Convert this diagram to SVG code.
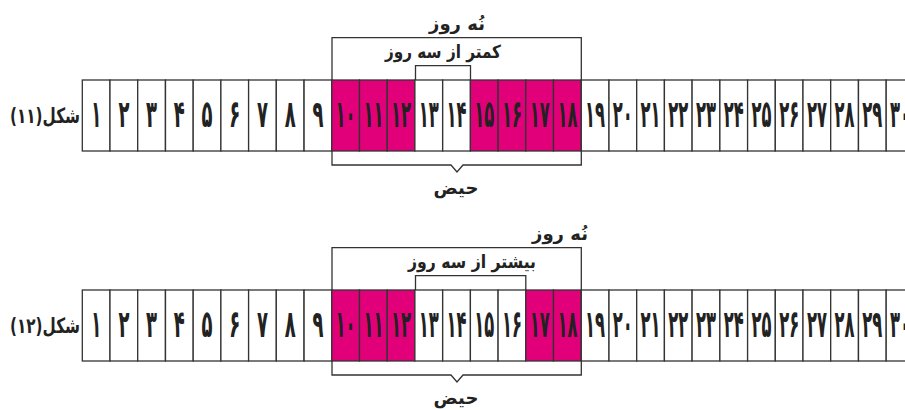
<svg xmlns="http://www.w3.org/2000/svg" width="905" height="410" viewBox="0 0 905 410">
<style>
.c{fill:#fff;stroke:#333;stroke-width:1.3}
.m{fill:#E2007A;stroke:#333;stroke-width:1.3}
.d{font-family:"DejaVu Sans",sans-serif;font-size:38px;font-weight:bold;fill:#222;text-anchor:middle}
.t{font-family:"DejaVu Sans",sans-serif;font-size:18px;font-weight:bold;fill:#222;text-anchor:middle;direction:rtl;unicode-bidi:embed}
.l{font-family:"DejaVu Sans",sans-serif;font-size:21px;font-weight:bold;fill:#222;text-anchor:middle;direction:rtl;unicode-bidi:embed}
.b{fill:none;stroke:#333;stroke-width:1.3}
</style>
<rect width="905" height="410" fill="#fff"/>
<g id="fig11">
<text id="label11" class="l" x="45" y="123" textLength="70" lengthAdjust="spacingAndGlyphs">شکل(۱۱)</text>
<g id="c11-1"><rect class="c" x="82.3" y="80" width="27.7" height="71"/><text class="d" x="96.2" y="127" textLength="10" lengthAdjust="spacingAndGlyphs">۱</text></g>
<g id="c11-2"><rect class="c" x="110" y="80" width="27.7" height="71"/><text class="d" x="123.9" y="127" textLength="11" lengthAdjust="spacingAndGlyphs">۲</text></g>
<g id="c11-3"><rect class="c" x="137.7" y="80" width="27.7" height="71"/><text class="d" x="151.6" y="127" textLength="11" lengthAdjust="spacingAndGlyphs">۳</text></g>
<g id="c11-4"><rect class="c" x="165.5" y="80" width="27.7" height="71"/><text class="d" x="179.3" y="127" textLength="11" lengthAdjust="spacingAndGlyphs">۴</text></g>
<g id="c11-5"><rect class="c" x="193.2" y="80" width="27.7" height="71"/><text class="d" x="207" y="127" textLength="11" lengthAdjust="spacingAndGlyphs">۵</text></g>
<g id="c11-6"><rect class="c" x="220.9" y="80" width="27.7" height="71"/><text class="d" x="234.8" y="127" textLength="11" lengthAdjust="spacingAndGlyphs">۶</text></g>
<g id="c11-7"><rect class="c" x="248.6" y="80" width="27.7" height="71"/><text class="d" x="262.5" y="127" textLength="11" lengthAdjust="spacingAndGlyphs">۷</text></g>
<g id="c11-8"><rect class="c" x="276.3" y="80" width="27.7" height="71"/><text class="d" x="290.2" y="127" textLength="11" lengthAdjust="spacingAndGlyphs">۸</text></g>
<g id="c11-9"><rect class="c" x="304.1" y="80" width="27.7" height="71"/><text class="d" x="317.9" y="127" textLength="11" lengthAdjust="spacingAndGlyphs">۹</text></g>
<g id="c11-10"><rect class="m" x="331.8" y="80" width="27.7" height="71"/><text class="d" x="345.6" y="127" textLength="20" lengthAdjust="spacingAndGlyphs">۱۰</text></g>
<g id="c11-11"><rect class="m" x="359.5" y="80" width="27.7" height="71"/><text class="d" x="373.4" y="127" textLength="20" lengthAdjust="spacingAndGlyphs">۱۱</text></g>
<g id="c11-12"><rect class="m" x="387.2" y="80" width="27.7" height="71"/><text class="d" x="401.1" y="127" textLength="20" lengthAdjust="spacingAndGlyphs">۱۲</text></g>
<g id="c11-13"><rect class="c" x="414.9" y="80" width="27.7" height="71"/><text class="d" x="428.8" y="127" textLength="20" lengthAdjust="spacingAndGlyphs">۱۳</text></g>
<g id="c11-14"><rect class="c" x="442.7" y="80" width="27.7" height="71"/><text class="d" x="456.5" y="127" textLength="20" lengthAdjust="spacingAndGlyphs">۱۴</text></g>
<g id="c11-15"><rect class="m" x="470.4" y="80" width="27.7" height="71"/><text class="d" x="484.2" y="127" textLength="20" lengthAdjust="spacingAndGlyphs">۱۵</text></g>
<g id="c11-16"><rect class="m" x="498.1" y="80" width="27.7" height="71"/><text class="d" x="512" y="127" textLength="20" lengthAdjust="spacingAndGlyphs">۱۶</text></g>
<g id="c11-17"><rect class="m" x="525.8" y="80" width="27.7" height="71"/><text class="d" x="539.7" y="127" textLength="20" lengthAdjust="spacingAndGlyphs">۱۷</text></g>
<g id="c11-18"><rect class="m" x="553.5" y="80" width="27.7" height="71"/><text class="d" x="567.4" y="127" textLength="20" lengthAdjust="spacingAndGlyphs">۱۸</text></g>
<g id="c11-19"><rect class="c" x="581.3" y="80" width="27.7" height="71"/><text class="d" x="595.1" y="127" textLength="20" lengthAdjust="spacingAndGlyphs">۱۹</text></g>
<g id="c11-20"><rect class="c" x="609" y="80" width="27.7" height="71"/><text class="d" x="622.8" y="127" textLength="20" lengthAdjust="spacingAndGlyphs">۲۰</text></g>
<g id="c11-21"><rect class="c" x="636.7" y="80" width="27.7" height="71"/><text class="d" x="650.6" y="127" textLength="20" lengthAdjust="spacingAndGlyphs">۲۱</text></g>
<g id="c11-22"><rect class="c" x="664.4" y="80" width="27.7" height="71"/><text class="d" x="678.3" y="127" textLength="20" lengthAdjust="spacingAndGlyphs">۲۲</text></g>
<g id="c11-23"><rect class="c" x="692.1" y="80" width="27.7" height="71"/><text class="d" x="706" y="127" textLength="20" lengthAdjust="spacingAndGlyphs">۲۳</text></g>
<g id="c11-24"><rect class="c" x="719.9" y="80" width="27.7" height="71"/><text class="d" x="733.7" y="127" textLength="20" lengthAdjust="spacingAndGlyphs">۲۴</text></g>
<g id="c11-25"><rect class="c" x="747.6" y="80" width="27.7" height="71"/><text class="d" x="761.4" y="127" textLength="20" lengthAdjust="spacingAndGlyphs">۲۵</text></g>
<g id="c11-26"><rect class="c" x="775.3" y="80" width="27.7" height="71"/><text class="d" x="789.2" y="127" textLength="20" lengthAdjust="spacingAndGlyphs">۲۶</text></g>
<g id="c11-27"><rect class="c" x="803" y="80" width="27.7" height="71"/><text class="d" x="816.9" y="127" textLength="20" lengthAdjust="spacingAndGlyphs">۲۷</text></g>
<g id="c11-28"><rect class="c" x="830.7" y="80" width="27.7" height="71"/><text class="d" x="844.6" y="127" textLength="20" lengthAdjust="spacingAndGlyphs">۲۸</text></g>
<g id="c11-29"><rect class="c" x="858.5" y="80" width="27.7" height="71"/><text class="d" x="872.3" y="127" textLength="20" lengthAdjust="spacingAndGlyphs">۲۹</text></g>
<g id="c11-30"><rect class="c" x="886.2" y="80" width="27.7" height="71"/><text class="d" x="900" y="127" textLength="20" lengthAdjust="spacingAndGlyphs">۳۰</text></g>
<text id="t11-nine" class="t" x="457" y="30">نُه روز</text>
<text id="t11-less" class="t" x="443" y="58" textLength="116" lengthAdjust="spacingAndGlyphs">کمتر از سه روز</text>
<text id="t11-haiz" class="t" x="456" y="194">حیض</text>
</g>
<g id="fig12">
<text id="label12" class="l" x="45" y="333" textLength="70" lengthAdjust="spacingAndGlyphs">شکل(۱۲)</text>
<g id="c12-1"><rect class="c" x="82.3" y="290" width="27.7" height="71"/><text class="d" x="96.2" y="337" textLength="10" lengthAdjust="spacingAndGlyphs">۱</text></g>
<g id="c12-2"><rect class="c" x="110" y="290" width="27.7" height="71"/><text class="d" x="123.9" y="337" textLength="11" lengthAdjust="spacingAndGlyphs">۲</text></g>
<g id="c12-3"><rect class="c" x="137.7" y="290" width="27.7" height="71"/><text class="d" x="151.6" y="337" textLength="11" lengthAdjust="spacingAndGlyphs">۳</text></g>
<g id="c12-4"><rect class="c" x="165.5" y="290" width="27.7" height="71"/><text class="d" x="179.3" y="337" textLength="11" lengthAdjust="spacingAndGlyphs">۴</text></g>
<g id="c12-5"><rect class="c" x="193.2" y="290" width="27.7" height="71"/><text class="d" x="207" y="337" textLength="11" lengthAdjust="spacingAndGlyphs">۵</text></g>
<g id="c12-6"><rect class="c" x="220.9" y="290" width="27.7" height="71"/><text class="d" x="234.8" y="337" textLength="11" lengthAdjust="spacingAndGlyphs">۶</text></g>
<g id="c12-7"><rect class="c" x="248.6" y="290" width="27.7" height="71"/><text class="d" x="262.5" y="337" textLength="11" lengthAdjust="spacingAndGlyphs">۷</text></g>
<g id="c12-8"><rect class="c" x="276.3" y="290" width="27.7" height="71"/><text class="d" x="290.2" y="337" textLength="11" lengthAdjust="spacingAndGlyphs">۸</text></g>
<g id="c12-9"><rect class="c" x="304.1" y="290" width="27.7" height="71"/><text class="d" x="317.9" y="337" textLength="11" lengthAdjust="spacingAndGlyphs">۹</text></g>
<g id="c12-10"><rect class="m" x="331.8" y="290" width="27.7" height="71"/><text class="d" x="345.6" y="337" textLength="20" lengthAdjust="spacingAndGlyphs">۱۰</text></g>
<g id="c12-11"><rect class="m" x="359.5" y="290" width="27.7" height="71"/><text class="d" x="373.4" y="337" textLength="20" lengthAdjust="spacingAndGlyphs">۱۱</text></g>
<g id="c12-12"><rect class="m" x="387.2" y="290" width="27.7" height="71"/><text class="d" x="401.1" y="337" textLength="20" lengthAdjust="spacingAndGlyphs">۱۲</text></g>
<g id="c12-13"><rect class="c" x="414.9" y="290" width="27.7" height="71"/><text class="d" x="428.8" y="337" textLength="20" lengthAdjust="spacingAndGlyphs">۱۳</text></g>
<g id="c12-14"><rect class="c" x="442.7" y="290" width="27.7" height="71"/><text class="d" x="456.5" y="337" textLength="20" lengthAdjust="spacingAndGlyphs">۱۴</text></g>
<g id="c12-15"><rect class="c" x="470.4" y="290" width="27.7" height="71"/><text class="d" x="484.2" y="337" textLength="20" lengthAdjust="spacingAndGlyphs">۱۵</text></g>
<g id="c12-16"><rect class="c" x="498.1" y="290" width="27.7" height="71"/><text class="d" x="512" y="337" textLength="20" lengthAdjust="spacingAndGlyphs">۱۶</text></g>
<g id="c12-17"><rect class="m" x="525.8" y="290" width="27.7" height="71"/><text class="d" x="539.7" y="337" textLength="20" lengthAdjust="spacingAndGlyphs">۱۷</text></g>
<g id="c12-18"><rect class="m" x="553.5" y="290" width="27.7" height="71"/><text class="d" x="567.4" y="337" textLength="20" lengthAdjust="spacingAndGlyphs">۱۸</text></g>
<g id="c12-19"><rect class="c" x="581.3" y="290" width="27.7" height="71"/><text class="d" x="595.1" y="337" textLength="20" lengthAdjust="spacingAndGlyphs">۱۹</text></g>
<g id="c12-20"><rect class="c" x="609" y="290" width="27.7" height="71"/><text class="d" x="622.8" y="337" textLength="20" lengthAdjust="spacingAndGlyphs">۲۰</text></g>
<g id="c12-21"><rect class="c" x="636.7" y="290" width="27.7" height="71"/><text class="d" x="650.6" y="337" textLength="20" lengthAdjust="spacingAndGlyphs">۲۱</text></g>
<g id="c12-22"><rect class="c" x="664.4" y="290" width="27.7" height="71"/><text class="d" x="678.3" y="337" textLength="20" lengthAdjust="spacingAndGlyphs">۲۲</text></g>
<g id="c12-23"><rect class="c" x="692.1" y="290" width="27.7" height="71"/><text class="d" x="706" y="337" textLength="20" lengthAdjust="spacingAndGlyphs">۲۳</text></g>
<g id="c12-24"><rect class="c" x="719.9" y="290" width="27.7" height="71"/><text class="d" x="733.7" y="337" textLength="20" lengthAdjust="spacingAndGlyphs">۲۴</text></g>
<g id="c12-25"><rect class="c" x="747.6" y="290" width="27.7" height="71"/><text class="d" x="761.4" y="337" textLength="20" lengthAdjust="spacingAndGlyphs">۲۵</text></g>
<g id="c12-26"><rect class="c" x="775.3" y="290" width="27.7" height="71"/><text class="d" x="789.2" y="337" textLength="20" lengthAdjust="spacingAndGlyphs">۲۶</text></g>
<g id="c12-27"><rect class="c" x="803" y="290" width="27.7" height="71"/><text class="d" x="816.9" y="337" textLength="20" lengthAdjust="spacingAndGlyphs">۲۷</text></g>
<g id="c12-28"><rect class="c" x="830.7" y="290" width="27.7" height="71"/><text class="d" x="844.6" y="337" textLength="20" lengthAdjust="spacingAndGlyphs">۲۸</text></g>
<g id="c12-29"><rect class="c" x="858.5" y="290" width="27.7" height="71"/><text class="d" x="872.3" y="337" textLength="20" lengthAdjust="spacingAndGlyphs">۲۹</text></g>
<g id="c12-30"><rect class="c" x="886.2" y="290" width="27.7" height="71"/><text class="d" x="900" y="337" textLength="20" lengthAdjust="spacingAndGlyphs">۳۰</text></g>
<text id="t12-nine" class="t" x="560" y="240">نُه روز</text>
<text id="t12-more" class="t" x="472" y="268" textLength="128" lengthAdjust="spacingAndGlyphs">بیشتر از سه روز</text>
<text id="t12-haiz" class="t" x="456" y="404">حیض</text>
</g>
<g id="connectors">
<path class="b" d="M332,80 V37.7 H581.3 V80"/>
<path class="b" d="M415.5,80 V65.7 H470.5 V80"/>
<path class="b" d="M332,151 V165 H451 L457,172 L463,165 H581.3 V151"/>
<path class="b" d="M332,290 V247.7 H581.3 V290"/>
<path class="b" d="M415.5,290 V275.7 H525.8 V290"/>
<path class="b" d="M332,361 V375 H451 L457,382 L463,375 H581.3 V361"/>
</g>
</svg>
